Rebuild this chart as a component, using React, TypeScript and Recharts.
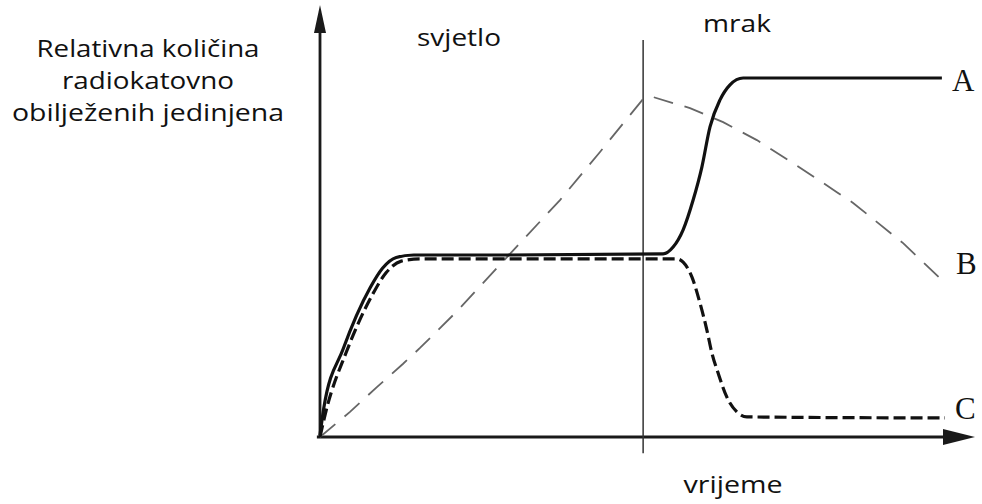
import React from 'react';
import { LineChart, Line, XAxis, YAxis, ReferenceLine } from 'recharts';

const WIDTH = 982;
const HEIGHT = 504;

// Curve A: labelled compound rises in light, then climbs again in the dark
const aTime = [0, 0.6, 3.7, 8.0, 10.0, 12.2, 15.0, 30, 54.9, 56.5, 58.1, 59.7, 61.1, 62.4, 64.0, 65.6, 67.7, 99.5];
const aLevel = [0.5, 8.0, 24.5, 41.5, 47.0, 50.0, 50.7, 50.7, 51.0, 52.9, 57.7, 66.0, 75.2, 86.4, 93.9, 98.1, 100, 100];

// Curve B: rises through the light period, falls off in the dark
const bTime = [0, 4.8, 9.1, 13.3, 16.0, 21.9, 30.4, 38.4, 44.8, 51.9, 53.3, 59.2, 64.5, 69.9, 75.7, 82.7, 85.3, 93.3, 100];
const bLevel = [0, 7.0, 13.9, 20.4, 24.8, 35.0, 51.0, 66.0, 79.4, 94.6, 94.7, 91.6, 87.7, 82.7, 76.3, 68.2, 65.2, 54.0, 42.9];

// Curve C: follows A in the light, drops almost to zero in the dark
const cTime = [0, 1.0, 4.2, 8.5, 10.6, 13.0, 16.0, 30, 57.1, 58.1, 59.5, 60.8, 61.9, 62.7, 63.7, 65.1, 66.7, 68.3, 100];
const cLevel = [0, 7.5, 23.6, 40.0, 45.8, 49.0, 49.6, 49.6, 49.6, 48.7, 44.6, 37.3, 29.8, 23.4, 17.8, 11.1, 7.0, 5.6, 5.3];

const seriesLabels = ['A', 'B', 'C'];
const phaseLabels = ['svjetlo', 'mrak'];
const yTitle = ['Relativna količina', 'radiokatovno', 'obilježenih jedinjena'];
const xTitle = 'vrijeme';

// light/dark boundary on the time axis
const switchTime = 51.7;

const toPoints = (ts: number[], vs: number[]) => ts.map((t, i) => ({ t, v: vs[i] }));

const dataA = toPoints(aTime, aLevel);
const dataB = toPoints(bTime, bLevel);
const dataC = toPoints(cTime, cLevel);

const arrowLine = (len: number, half: number) => (p: any) => {
  const { x1, y1, x2, y2 } = p;
  const dx = x2 - x1;
  const dy = y2 - y1;
  const d = Math.sqrt(dx * dx + dy * dy) || 1;
  const ux = dx / d;
  const uy = dy / d;
  const bx = x2 - ux * len;
  const by = y2 - uy * len;
  const pts = `${x2},${y2} ${bx - uy * half},${by + ux * half} ${bx + uy * half},${by - ux * half}`;
  return (
    <g>
      <line x1={x1} y1={y1} x2={bx + ux * 2} y2={by + uy * 2} stroke="#1a1a1a" strokeWidth={2.8} />
      <polygon points={pts} fill="#1a1a1a" />
    </g>
  );
};

const labelFont = '"Open Sans", "DejaVu Sans", sans-serif';
const letterFont = '"Liberation Serif", "DejaVu Serif", serif';

// widths of the wide geometric lettering
const titleWidths = [223, 172, 272];

export default function App() {
  return (
    <div style={{ position: 'absolute', left: 0, top: 0, width: WIDTH, height: HEIGHT, background: '#fff' }}>
      <LineChart
        width={WIDTH}
        height={HEIGHT}
        margin={{ top: 78, right: 37, bottom: 67, left: 320 }}
      >
        <XAxis type="number" dataKey="t" domain={[0, 100]} hide />
        <YAxis type="number" dataKey="v" domain={[0, 100]} hide />

        <ReferenceLine
          segment={[{ x: 0, y: -0.3 }, { x: 0, y: 120.3 }]}
          ifOverflow="visible"
          shape={arrowLine(28, 6)}
        />
        <ReferenceLine
          segment={[{ x: -0.5, y: 0 }, { x: 104.8, y: 0 }]}
          ifOverflow="visible"
          shape={arrowLine(32, 8)}
        />
        <ReferenceLine
          segment={[{ x: switchTime, y: -4.5 }, { x: switchTime, y: 110.6 }]}
          ifOverflow="visible"
          stroke="#333"
          strokeWidth={1.5}
        />

        <Line
          data={dataB}
          dataKey="v"
          type="linear"
          stroke="#666"
          strokeWidth={1.8}
          strokeDasharray="20 12"
          dot={false}
          isAnimationActive={false}
        />
        <Line
          data={dataC}
          dataKey="v"
          type="monotone"
          stroke="#111"
          strokeWidth={3.2}
          strokeDasharray="12 5"
          dot={false}
          isAnimationActive={false}
        />
        <Line
          data={dataA}
          dataKey="v"
          type="monotone"
          stroke="#111"
          strokeWidth={3.2}
          dot={false}
          isAnimationActive={false}
        />
      </LineChart>

      <svg
        width={WIDTH}
        height={HEIGHT}
        style={{ position: 'absolute', left: 0, top: 0, pointerEvents: 'none' }}
      >
        <g fontFamily={labelFont} fontSize={23} fill="#111" textAnchor="middle">
          {yTitle.map((line, i) => (
            <text key={line} x={148} y={57 + i * 32} textLength={titleWidths[i]} lengthAdjust="spacingAndGlyphs">
              {line}
            </text>
          ))}
          <text x={459} y={46} textLength={84} lengthAdjust="spacingAndGlyphs">{phaseLabels[0]}</text>
          <text x={737} y={32} textLength={68} lengthAdjust="spacingAndGlyphs">{phaseLabels[1]}</text>
          <text x={733} y={493} textLength={99} lengthAdjust="spacingAndGlyphs">{xTitle}</text>
        </g>
        <g fontFamily={letterFont} fontSize={31} fill="#111">
          <text x={952} y={91}>{seriesLabels[0]}</text>
          <text x={956} y={274}>{seriesLabels[1]}</text>
          <text x={955} y={419}>{seriesLabels[2]}</text>
        </g>
      </svg>
    </div>
  );
}
